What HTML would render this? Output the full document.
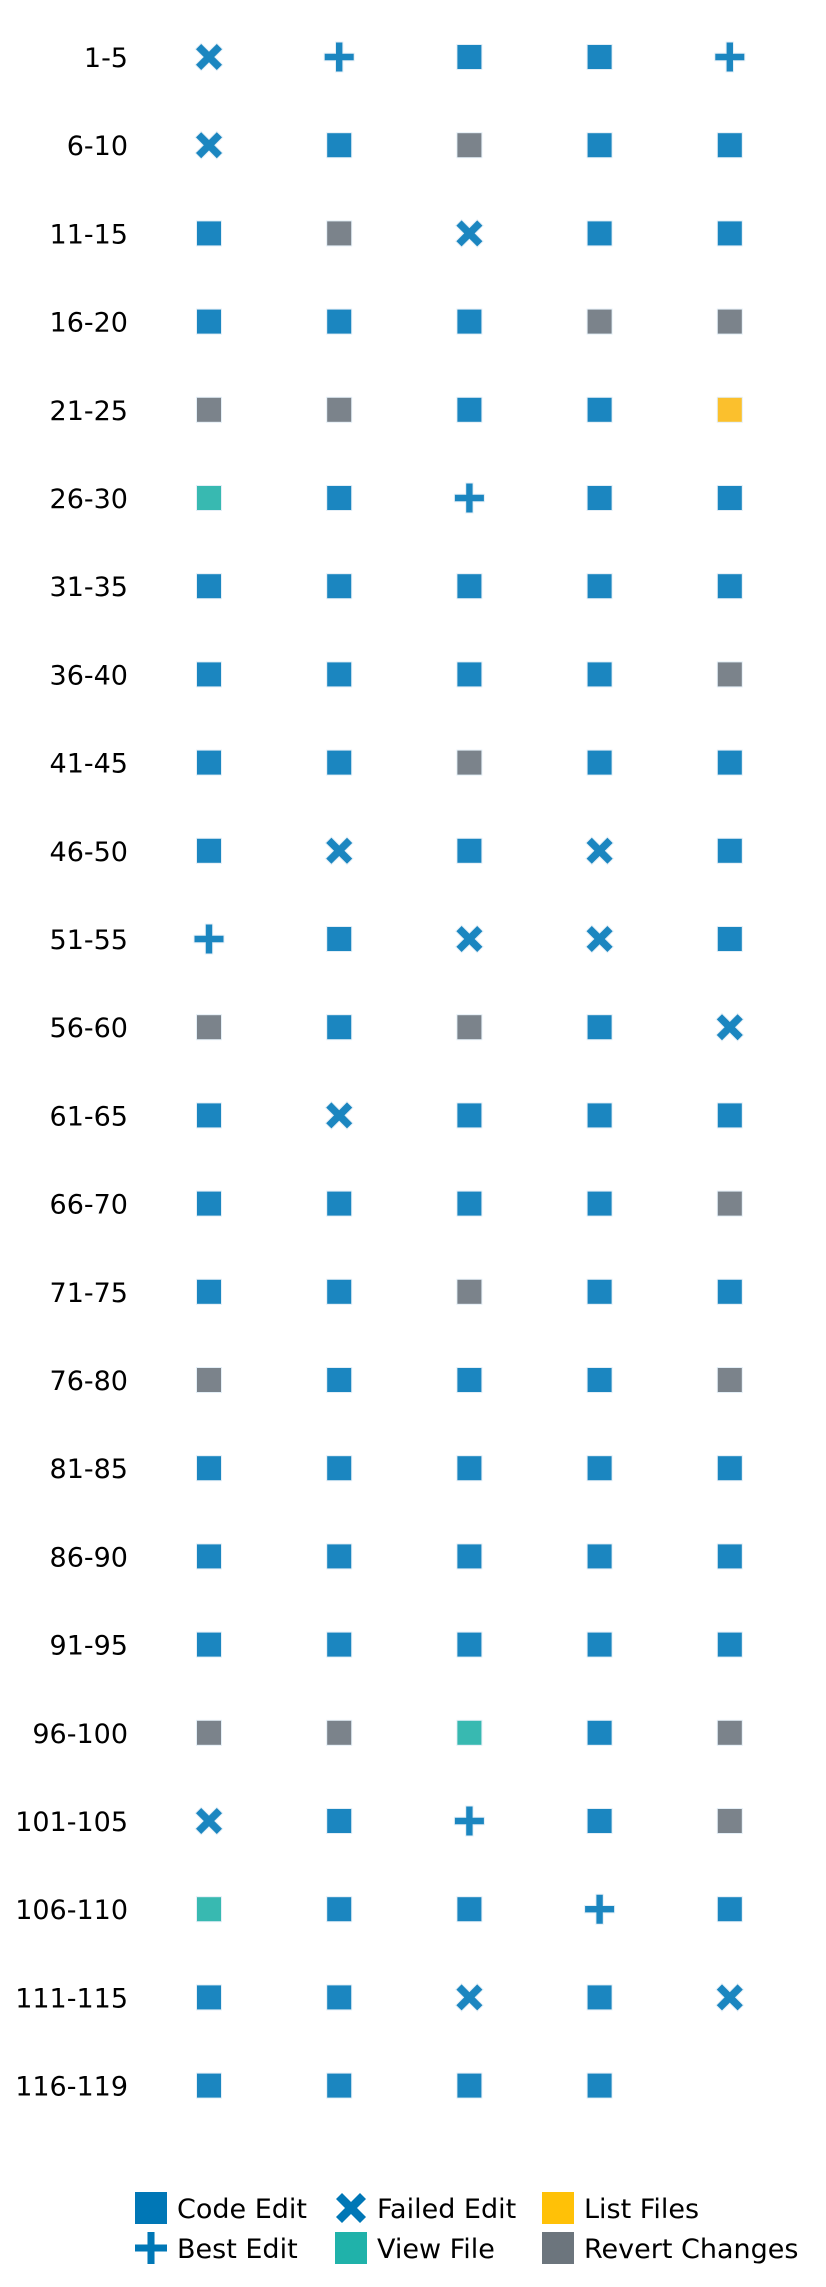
<!DOCTYPE html>
<html><head><meta charset="utf-8"><style>
html,body{margin:0;padding:0;background:#fff;}
svg{display:block;font-family:"DejaVu Sans","Liberation Sans",sans-serif;}
</style></head><body>
<svg id="chart" width="826" height="2287" viewBox="0 0 826 2287" xmlns="http://www.w3.org/2000/svg"></svg>
<script>
const rowLabels=["1-5","6-10","11-15","16-20","21-25","26-30","31-35","36-40","41-45","46-50","51-55","56-60","61-65","66-70","71-75","76-80","81-85","86-90","91-95","96-100","101-105","106-110","111-115","116-119"];
const rowActions=[
["F","B","C","C","B"],["F","C","R","C","C"],["C","R","F","C","C"],["C","C","C","R","R"],
["R","R","C","C","L"],["V","C","B","C","C"],["C","C","C","C","C"],["C","C","C","C","R"],
["C","C","R","C","C"],["C","F","C","F","C"],["B","C","F","F","C"],["R","C","R","C","F"],
["C","F","C","C","C"],["C","C","C","C","R"],["C","C","R","C","C"],["R","C","C","C","R"],
["C","C","C","C","C"],["C","C","C","C","C"],["C","C","C","C","C"],["R","R","V","C","R"],
["F","C","B","C","R"],["V","C","C","B","C"],["C","C","F","C","F"],["C","C","C","C"]];
const legendKeys=["C","B","F","V","L","R"];
const legendNames=["Code Edit","Best Edit","Failed Edit","View File","List Files","Revert Changes"];

const NS="http://www.w3.org/2000/svg";
const svg=document.getElementById('chart');
const colors={C:"#1b86c0",B:"#1b86c0",F:"#1b86c0",V:"#38b9b1",L:"#fbc02d",R:"#7b838b"};
const legColors={C:"#0077b6",B:"#0077b6",F:"#0077b6",V:"#20b2aa",L:"#ffc107",R:"#6c757d"};
const xPos=i=>209+130.2*i;
const yPos=r=>57+88.2*r;
function mk(tag,attrs){const e=document.createElementNS(NS,tag);for(const k in attrs)e.setAttribute(k,attrs[k]);return e;}
function marker(type,cx,cy,s,col,edge){
  const g=mk('g',{});
  const h=s/2;
  let el;
  if(type==="B"){
    const t=s*0.22;
    el=mk('path',{d:`M${cx-t/2},${cy-h}h${t}v${h-t/2}h${h-t/2}v${t}h${-(h-t/2)}v${h-t/2}h${-t}v${-(h-t/2)}h${-(h-t/2)}v${-t}h${h-t/2}z`});
  }else if(type==="F"){
    const t=s*0.2;
    el=mk('path',{d:`M${cx-h},${cy-h+t}L${cx-h+t},${cy-h}L${cx},${cy-t}L${cx+h-t},${cy-h}L${cx+h},${cy-h+t}L${cx+t},${cy}L${cx+h},${cy+h-t}L${cx+h-t},${cy+h}L${cx},${cy+t}L${cx-h+t},${cy+h}L${cx-h},${cy+h-t}L${cx-t},${cy}z`});
  }else{
    el=mk('rect',{x:cx-h,y:cy-h,width:s,height:s});
  }
  el.setAttribute('fill',col);
  if(edge){el.setAttribute('stroke','#e4eff7');el.setAttribute('stroke-width','2');el.setAttribute('paint-order','stroke');}
  g.appendChild(el);
  return g;
}
rowLabels.forEach((lab,r)=>{
  const t=mk('text',{x:128,y:yPos(r)+10,'text-anchor':'end','font-size':27,fill:'#000'});
  
  
  t.textContent=lab;svg.appendChild(t);
  rowActions[r].forEach((a,i)=>{
    const s=a==="C"||a==="R"||a==="V"||a==="L"?24:(a==="B"?29:26);
    const m=marker(a,xPos(i),yPos(r),s,colors[a],true);
    
    
    svg.appendChild(m);
  });
});
const lx=[151,351,558], ly=[2208,2248];
legendKeys.forEach((k,i)=>{
  const col=Math.floor(i/2), row=i%2;
  const g=mk('g',{});
  
  
  const s=k==="F"?30:32;
  g.appendChild(marker(k,lx[col],ly[row],s,legColors[k],false));
  const t=mk('text',{x:lx[col]+26,y:ly[row]+10,'font-size':27,fill:'#000'});
  t.textContent=legendNames[i];
  g.appendChild(t);
  svg.appendChild(g);
});
</script>
</body></html>
